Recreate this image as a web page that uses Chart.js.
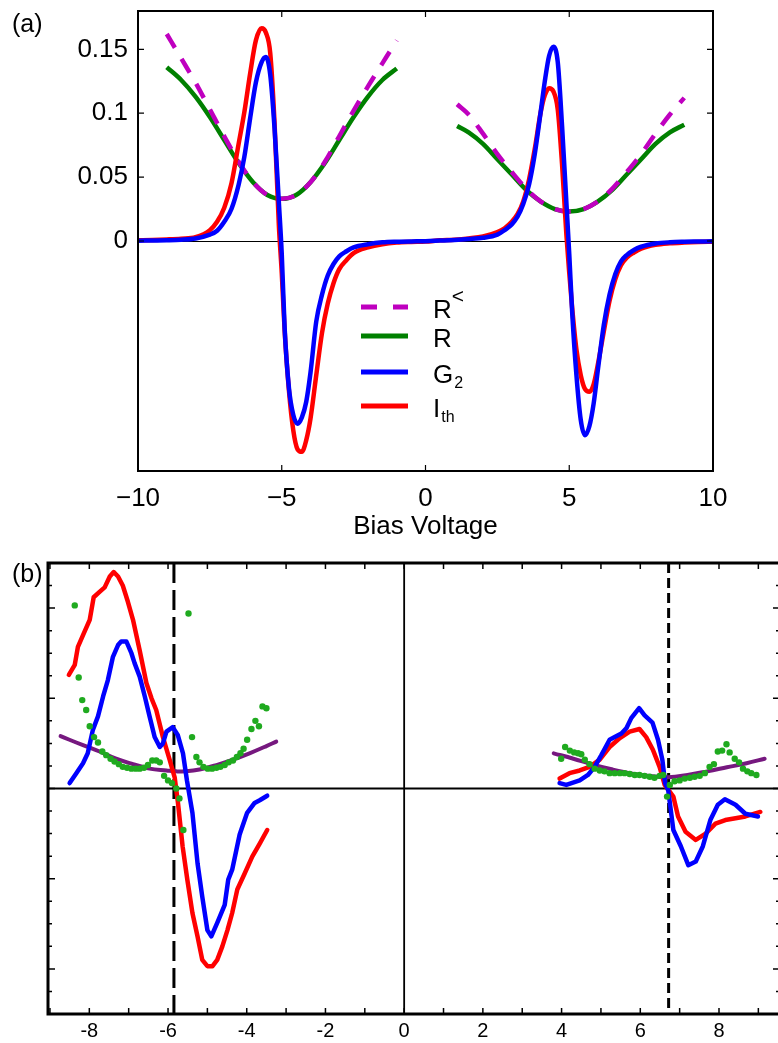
<!DOCTYPE html>
<html>
<head>
<meta charset="utf-8">
<script src="https://cdn.jsdelivr.net/npm/chart.js@4.4.0/dist/chart.umd.min.js"></script>
<style>
  html, body { margin: 0; padding: 0; background: #fff; overflow: hidden; }
  #wrap { position: relative; width: 778px; height: 1043px; overflow: hidden; }
  canvas { position: absolute; }
  .tag { position: absolute; z-index: 2; font: 25px "Liberation Sans", Arial, sans-serif; color: #000; line-height: 1; }
</style>
</head>
<body>
<div id="wrap">
  <canvas id="chartA" width="778" height="542" style="left:0;top:0;width:778px;height:542px"></canvas>
  <canvas id="chartB" width="800" height="498" style="left:0;top:545px;width:800px;height:498px"></canvas>
  <div class="tag" style="left:12px;top:11px">(a)</div>
  <div class="tag" style="left:12px;top:561px">(b)</div>
</div>
<script>
// ---------- panel (a): model curves ----------
const xA = [-10, -9.5, -9, -8.5, -8, -7.5, -7.25, -7, -6.75, -6.5, -6.3, -6.1, -5.9, -5.7, -5.55, -5.4, -5.25, -5.1, -5.0, -4.9,
  -4.75, -4.6, -4.45, -4.3, -4.15, -4.0, -3.8, -3.6, -3.4, -3.2, -3.0, -2.75, -2.5, -2.0, -1.5, -1.0, -0.5, 0,
  0.5, 1, 1.5, 2, 2.5, 2.75, 3, 3.2, 3.4, 3.6, 3.8, 4.0, 4.15, 4.3, 4.45, 4.6, 4.75, 4.9, 5.0, 5.1,
  5.25, 5.4, 5.55, 5.7, 5.85, 6.0, 6.2, 6.4, 6.6, 6.8, 7.0, 7.25, 7.5, 8, 8.5, 9, 9.5, 10];
const g2A = [0.0002, 0.0004, 0.0006, 0.001, 0.002, 0.005, 0.008, 0.015, 0.025, 0.044, 0.066, 0.096, 0.124, 0.140, 0.144, 0.130, 0.088, 0.030, -0.01, -0.068,
  -0.115, -0.136, -0.143, -0.138, -0.126, -0.103, -0.063, -0.042, -0.027, -0.018, -0.012, -0.008, -0.005, -0.0025, -0.001, -0.0005, -0.0003, -0.0002,
  0.0003, 0.0008, 0.0015, 0.0025, 0.005, 0.0085, 0.013, 0.019, 0.029, 0.044, 0.068, 0.100, 0.125, 0.145, 0.152, 0.140, 0.090, 0.030, -0.01, -0.055,
  -0.105, -0.140, -0.152, -0.145, -0.127, -0.100, -0.066, -0.042, -0.026, -0.016, -0.011, -0.007, -0.0045, -0.002, -0.001, -0.0006, -0.0004, -0.0002];
const ithA = [0.0005, 0.0008, 0.0012, 0.0018, 0.003, 0.0085, 0.015, 0.026, 0.045, 0.076, 0.101, 0.131, 0.157, 0.1665, 0.163, 0.147, 0.092, 0.012, -0.025, -0.070,
  -0.117, -0.148, -0.163, -0.165, -0.156, -0.139, -0.105, -0.072, -0.049, -0.033, -0.022, -0.015, -0.0095, -0.005, -0.0025, -0.0012, -0.0007, -0.0004,
  0.0005, 0.001, 0.002, 0.0035, 0.007, 0.010, 0.015, 0.021, 0.031, 0.048, 0.072, 0.100, 0.114, 0.1195, 0.117, 0.103, 0.060, 0.005, -0.025, -0.052,
  -0.085, -0.105, -0.116, -0.118, -0.112, -0.096, -0.071, -0.047, -0.030, -0.019, -0.013, -0.009, -0.006, -0.003, -0.0018, -0.0012, -0.0008, -0.0005];

const xRLeft = [-9, -8.5, -8, -7.5, -7, -6.5, -6, -5.5, -5, -4.5, -4, -3.5, -3, -2.5, -2, -1.5, -1];
const rLeft = [0.136, 0.126, 0.113, 0.097, 0.079, 0.061, 0.046, 0.036, 0.033, 0.036, 0.046, 0.061, 0.079, 0.097, 0.113, 0.126, 0.135];
const rLessLeft = [0.162, 0.143, 0.124, 0.103, 0.082, 0.062, 0.046, 0.036, 0.033, 0.036, 0.046, 0.062, 0.082, 0.102, 0.121, 0.139, 0.157];
const xRRight = [1.1, 1.5, 2, 2.5, 3, 3.5, 4, 4.5, 5, 5.5, 6, 6.5, 7, 7.5, 8, 8.5, 9];
const rRight = [0.090, 0.085, 0.076, 0.064, 0.052, 0.040, 0.031, 0.025, 0.023, 0.025, 0.031, 0.040, 0.052, 0.064, 0.076, 0.085, 0.091];
const rLessRight = [0.107, 0.099, 0.084, 0.068, 0.054, 0.041, 0.031, 0.025, 0.023, 0.025, 0.031, 0.041, 0.054, 0.068, 0.084, 0.099, 0.112];

const xTicksA = [-10, -5, 0, 5, 10];
const yTicksA = [0, 0.05, 0.1, 0.15];

// ---------- panel (b): measured data ----------
const bRedLx = [-8.52, -8.37, -8.29, -8.16, -7.99, -7.89, -7.74, -7.61, -7.48, -7.38, -7.27, -7.15, -7.02, -6.89, -6.72, -6.55, -6.42, -6.30, -6.13, -5.96,
  -5.83, -5.75, -5.63, -5.51, -5.38, -5.25, -5.13, -5.0, -4.87, -4.75, -4.62, -4.49, -4.37, -4.24, -4.05, -3.86, -3.67, -3.48];
const bRedLy = [1.26, 1.37, 1.57, 1.70, 1.87, 2.12, 2.18, 2.23, 2.35, 2.40, 2.35, 2.25, 2.07, 1.87, 1.53, 1.17, 1.0, 0.87, 0.57, 0.32,
  0.12, -0.15, -0.64, -1.01, -1.38, -1.64, -1.90, -1.97, -1.97, -1.90, -1.75, -1.57, -1.38, -1.12, -0.94, -0.755, -0.61, -0.46];
const bBlueLx = [-8.50, -8.33, -8.16, -8.04, -7.91, -7.78, -7.65, -7.53, -7.40, -7.27, -7.19, -7.06, -6.93, -6.85, -6.72, -6.59, -6.47, -6.34, -6.21, -6.13,
  -6.04, -5.88, -5.75, -5.62, -5.52, -5.38, -5.25, -5.13, -5.0, -4.90, -4.75, -4.56, -4.47, -4.37, -4.18, -3.99, -3.80, -3.67, -3.48];
const bBlueLy = [0.06, 0.17, 0.28, 0.39, 0.65, 0.80, 1.02, 1.20, 1.46, 1.59, 1.63, 1.63, 1.50, 1.39, 1.24, 1.02, 0.80, 0.57, 0.46, 0.50,
  0.63, 0.68, 0.59, 0.39, 0.09, -0.27, -0.83, -1.20, -1.57, -1.64, -1.49, -1.29, -1.01, -0.90, -0.51, -0.27, -0.16, -0.13, -0.08];
const bDotLx = [-8.37, -8.27, -8.18, -8.08, -7.99, -7.88, -7.78, -7.67, -7.57, -7.46, -7.36, -7.25, -7.15, -7.04, -6.93, -6.82, -6.72, -6.61, -6.51, -6.40,
  -6.30, -6.21, -6.10, -6.0, -5.90, -5.79, -5.71, -5.61, -5.48, -5.39, -5.28, -5.20, -5.10, -4.99, -4.88, -4.77, -4.67, -4.56, -4.46, -4.35,
  -4.25, -4.16, -4.08, -3.99, -3.88, -3.78, -3.69, -3.60, -3.50];
const bDotLy = [2.03, 1.23, 0.98, 0.87, 0.69, 0.57, 0.51, 0.41, 0.37, 0.33, 0.30, 0.27, 0.24, 0.23, 0.22, 0.22, 0.22, 0.23, 0.26, 0.31,
  0.31, 0.29, 0.14, 0.09, 0.06, 0.0, -0.11, -0.46, 1.94, 0.57, 0.35, 0.29, 0.24, 0.22, 0.22, 0.23, 0.24, 0.26, 0.29, 0.31,
  0.35, 0.39, 0.44, 0.54, 0.66, 0.75, 0.69, 0.91, 0.89];
const bFitLx = [-8.73, -8.16, -7.74, -7.32, -6.89, -6.47, -6.04, -5.79, -5.54, -5.20, -4.77, -4.35, -3.93, -3.50, -3.25];
const bFitLy = [0.58, 0.48, 0.41, 0.33, 0.27, 0.22, 0.20, 0.19, 0.19, 0.21, 0.26, 0.32, 0.39, 0.47, 0.52];

const bRedRx = [3.95, 4.20, 4.46, 4.71, 4.97, 5.22, 5.48, 5.73, 5.98, 6.15, 6.32, 6.49, 6.62, 6.84, 6.96, 7.15, 7.41, 7.66, 7.91, 8.16, 8.42, 8.67, 9.05];
const bRedRy = [0.11, 0.17, 0.20, 0.24, 0.32, 0.46, 0.56, 0.63, 0.66, 0.57, 0.43, 0.24, 0.04, -0.09, -0.31, -0.48, -0.57, -0.50, -0.39, -0.35, -0.33, -0.31, -0.26];
const bBlueRx = [3.95, 4.12, 4.46, 4.67, 4.84, 5.01, 5.22, 5.35, 5.52, 5.65, 5.77, 5.97, 6.11, 6.31, 6.45, 6.56, 6.63, 6.71, 6.84, 7.03,
  7.22, 7.41, 7.59, 7.78, 7.97, 8.15, 8.42, 8.67, 8.99];
const bBlueRy = [0.06, 0.04, 0.09, 0.15, 0.24, 0.37, 0.54, 0.57, 0.61, 0.67, 0.78, 0.89, 0.81, 0.73, 0.54, 0.32, 0.06, -0.02, -0.46, -0.64,
  -0.85, -0.81, -0.64, -0.35, -0.18, -0.12, -0.18, -0.28, -0.31];
const bDotRx = [3.99, 4.09, 4.21, 4.32, 4.42, 4.50, 4.59, 4.71, 4.84, 4.97, 5.09, 5.22, 5.35, 5.48, 5.60, 5.73, 5.86, 5.98, 6.11, 6.24,
  6.36, 6.49, 6.58, 6.68, 6.75, 6.87, 7.0, 7.13, 7.26, 7.38, 7.51, 7.64, 7.76, 7.87, 7.97, 8.08, 8.19, 8.27, 8.40, 8.51,
  8.61, 8.72, 8.82, 8.95];
const bDotRy = [0.33, 0.46, 0.42, 0.40, 0.39, 0.38, 0.32, 0.27, 0.22, 0.20, 0.19, 0.17, 0.17, 0.17, 0.17, 0.16, 0.15, 0.15, 0.14, 0.13,
  0.12, 0.14, 0.15, -0.09, 0.04, 0.08, 0.09, 0.11, 0.12, 0.13, 0.14, 0.17, 0.24, 0.27, 0.41, 0.42, 0.49, 0.40, 0.33, 0.29,
  0.22, 0.19, 0.17, 0.15];
const bFitRx = [3.80, 4.3, 4.8, 5.3, 5.8, 6.3, 6.7, 7.2, 7.7, 8.2, 8.7, 9.16];
const bFitRy = [0.39, 0.33, 0.265, 0.21, 0.165, 0.135, 0.125, 0.15, 0.19, 0.235, 0.28, 0.33];

const dashXB = [-5.85, 6.72];
const xLabelsB = [-8, -6, -4, -2, 0, 2, 4, 6, 8];

const FONT = '"Liberation Sans", Arial, Helvetica, sans-serif';
const pts = (xs, ys) => xs.map((x, i) => ({ x: x, y: ys[i] }));

// legend of (a): main letter plus small script part
const legendA = [
  { main: 'R', small: '<', sup: true, color: '#bf00bf', dash: [16, 16], y: 307 },
  { main: 'R', small: '', sup: false, color: '#008000', dash: [], y: 336 },
  { main: 'G', small: '2', sup: false, color: '#0000ff', dash: [], y: 372 },
  { main: 'I', small: 'th', sup: false, color: '#ff0000', dash: [], y: 406 }
];

const frameA = {
  id: 'frameA',
  beforeDatasetsDraw(chart) {
    const { ctx, chartArea: a, scales: { y } } = chart;
    ctx.save();
    ctx.strokeStyle = '#000';
    ctx.lineWidth = 1;
    const y0 = Math.round(y.getPixelForValue(0)) + 0.5;
    ctx.beginPath();
    ctx.moveTo(a.left, y0);
    ctx.lineTo(a.right, y0);
    ctx.stroke();
    ctx.restore();
  },
  afterDraw(chart) {
    const { ctx, chartArea: a, scales: { x, y } } = chart;
    ctx.save();
    ctx.strokeStyle = '#000';
    ctx.lineWidth = 2;
    ctx.strokeRect(a.left, a.top, a.right - a.left, a.bottom - a.top);
    ctx.lineWidth = 1.2;
    ctx.beginPath();
    xTicksA.slice(1, -1).forEach(v => {
      const px = x.getPixelForValue(v);
      ctx.moveTo(px, a.bottom); ctx.lineTo(px, a.bottom - 6);
      ctx.moveTo(px, a.top); ctx.lineTo(px, a.top + 6);
    });
    yTicksA.forEach(v => {
      const py = y.getPixelForValue(v);
      ctx.moveTo(a.left, py); ctx.lineTo(a.left + 6, py);
      ctx.moveTo(a.right, py); ctx.lineTo(a.right - 6, py);
    });
    ctx.stroke();

    // legend
    legendA.forEach(item => {
      ctx.strokeStyle = item.color;
      ctx.lineWidth = 5;
      ctx.setLineDash(item.dash);
      ctx.beginPath();
      ctx.moveTo(361, item.y);
      ctx.lineTo(408, item.y);
      ctx.stroke();
      ctx.setLineDash([]);
      ctx.fillStyle = '#000';
      ctx.textBaseline = 'alphabetic';
      ctx.textAlign = 'left';
      ctx.font = '26px ' + FONT;
      const base = item.y + 11;
      ctx.fillText(item.main, 433, base);
      const w = ctx.measureText(item.main).width;
      if (item.small) {
        if (item.sup) {
          ctx.font = '21px ' + FONT;
          ctx.fillText(item.small, 433 + w, base - 15);
        } else {
          ctx.font = '16px ' + FONT;
          ctx.fillText(item.small, 433 + w + 1, base + 5);
        }
      }
    });
    ctx.restore();
  }
};

new Chart(document.getElementById('chartA'), {
  type: 'line',
  data: {
    datasets: [
      { label: 'G2', data: pts(xA, g2A), borderColor: '#0000ff', borderWidth: 4.5, order: 0 },
      { label: 'Ith', data: pts(xA, ithA), borderColor: '#ff0000', borderWidth: 4.5, order: 1 },
      { label: 'R<', data: pts(xRLeft, rLessLeft), borderColor: '#bf00bf', borderWidth: 4.5, borderDash: [16, 13], order: 2 },
      { label: 'R<', data: pts(xRRight, rLessRight), borderColor: '#bf00bf', borderWidth: 4.5, borderDash: [16, 13], order: 2 },
      { label: 'R', data: pts(xRLeft, rLeft), borderColor: '#008000', borderWidth: 4.5, order: 3 },
      { label: 'R', data: pts(xRRight, rRight), borderColor: '#008000', borderWidth: 4.5, order: 3 }
    ]
  },
  options: {
    responsive: false,
    animation: false,
    devicePixelRatio: 1,
    layout: { padding: { left: 0, right: 65, top: 11, bottom: 0 } },
    elements: {
      point: { radius: 0 },
      line: { cubicInterpolationMode: 'monotone', borderJoinStyle: 'round', fill: false }
    },
    plugins: { legend: { display: false }, tooltip: { enabled: false } },
    scales: {
      x: {
        type: 'linear', min: -10, max: 10,
        grid: { display: false, drawTicks: false },
        border: { display: false },
        afterBuildTicks: s => { s.ticks = xTicksA.map(v => ({ value: v })); },
        afterFit: s => { s.height = 71; s.paddingLeft = 0; s.paddingRight = 0; },
        ticks: {
          padding: 12, color: '#000', font: { family: FONT, size: 26 },
          callback: v => (v < 0 ? '\u2212' + Math.abs(v) : String(v))
        },
        title: { display: true, text: 'Bias Voltage', color: '#000', font: { family: FONT, size: 26 }, padding: 0 }
      },
      y: {
        type: 'linear', min: -0.18, max: 0.18,
        grid: { display: false, drawTicks: false },
        border: { display: false },
        afterBuildTicks: s => { s.ticks = yTicksA.map(v => ({ value: v })); },
        afterFit: s => { s.width = 138; s.paddingTop = 0; s.paddingBottom = 0; },
        ticks: { padding: 10, color: '#000', font: { family: FONT, size: 26 }, callback: v => String(v) }
      }
    }
  },
  plugins: [frameA]
});

// ---------- panel (b) ----------
const frameB = {
  id: 'frameB',
  beforeDatasetsDraw(chart) {
    const { ctx, chartArea: a, scales: { x, y } } = chart;
    ctx.save();
    ctx.strokeStyle = '#000';
    ctx.lineWidth = 1.8;
    const y0 = y.getPixelForValue(0);
    const x0 = x.getPixelForValue(0);
    ctx.beginPath();
    ctx.moveTo(a.left, y0); ctx.lineTo(a.right, y0);
    ctx.moveTo(x0, a.top); ctx.lineTo(x0, a.bottom);
    ctx.stroke();
    ctx.lineWidth = 3;
    const dashes = [[20, 7], [10, 5]];
    dashXB.forEach((v, i) => {
      const px = x.getPixelForValue(v);
      ctx.setLineDash(dashes[i]);
      ctx.beginPath();
      ctx.moveTo(px, a.top); ctx.lineTo(px, a.bottom);
      ctx.stroke();
    });
    ctx.restore();
  },
  afterDraw(chart) {
    const { ctx, chartArea: a, scales: { x, y } } = chart;
    ctx.save();
    ctx.strokeStyle = '#000';
    ctx.lineWidth = 3;
    ctx.strokeRect(a.left, a.top, a.right - a.left, a.bottom - a.top);
    ctx.lineWidth = 1.5;
    ctx.beginPath();
    for (let v = -9; v <= 9; v++) {
      const px = x.getPixelForValue(v);
      ctx.moveTo(px, a.bottom); ctx.lineTo(px, a.bottom - 6);
      ctx.moveTo(px, a.top); ctx.lineTo(px, a.top + 6);
    }
    for (let k = -10; k <= 10; k++) {
      const py = y.getPixelForValue(k / 4);
      const len = k % 4 === 0 ? 7 : 4;
      ctx.moveTo(a.left, py); ctx.lineTo(a.left + len, py);
      ctx.moveTo(a.right, py); ctx.lineTo(a.right - len, py);
    }
    ctx.stroke();
    ctx.restore();
  }
};

const dotStyle = { showLine: false, pointRadius: 3.2, pointBackgroundColor: '#1faa1f', pointBorderWidth: 0, order: 0 };

new Chart(document.getElementById('chartB'), {
  type: 'line',
  data: {
    datasets: [
      Object.assign({ label: 'data', data: pts(bDotLx, bDotLy) }, dotStyle),
      Object.assign({ label: 'data', data: pts(bDotRx, bDotRy) }, dotStyle),
      { label: 'G2', data: pts(bBlueLx, bBlueLy), borderColor: '#0000ff', borderWidth: 4.5, order: 1 },
      { label: 'G2', data: pts(bBlueRx, bBlueRy), borderColor: '#0000ff', borderWidth: 4.5, order: 1 },
      { label: 'Ith', data: pts(bRedLx, bRedLy), borderColor: '#ff0000', borderWidth: 4.5, order: 2 },
      { label: 'Ith', data: pts(bRedRx, bRedRy), borderColor: '#ff0000', borderWidth: 4.5, order: 2 },
      { label: 'fit', data: pts(bFitLx, bFitLy), borderColor: '#76187f', borderWidth: 4, tension: 0.4, order: 3 },
      { label: 'fit', data: pts(bFitRx, bFitRy), borderColor: '#76187f', borderWidth: 4, tension: 0.4, order: 3 }
    ]
  },
  options: {
    responsive: false,
    animation: false,
    devicePixelRatio: 1,
    layout: { padding: { left: 48, right: 20, top: 18, bottom: 0 } },
    elements: {
      point: { radius: 0 },
      line: { borderJoinStyle: 'round', borderCapStyle: 'round', fill: false }
    },
    plugins: { legend: { display: false }, tooltip: { enabled: false } },
    scales: {
      x: {
        type: 'linear', min: -9.05, max: 9.55,
        grid: { display: false, drawTicks: false },
        border: { display: false },
        afterBuildTicks: s => { s.ticks = xLabelsB.map(v => ({ value: v })); },
        afterFit: s => { s.height = 29; s.paddingLeft = 0; s.paddingRight = 0; },
        ticks: { padding: 5, color: '#000', font: { family: FONT, size: 20 }, callback: v => String(v) }
      },
      y: { type: 'linear', min: -2.5, max: 2.5, display: false }
    }
  },
  plugins: [frameB]
});
</script>
</body>
</html>
